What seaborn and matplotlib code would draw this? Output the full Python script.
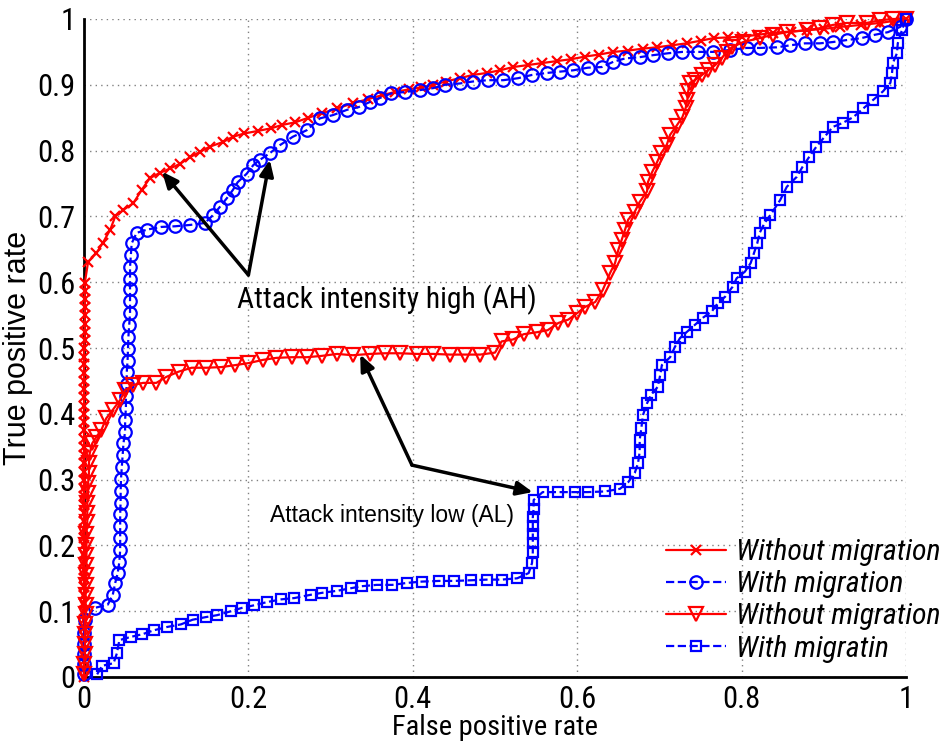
import matplotlib
matplotlib.use("Agg")
import matplotlib.pyplot as plt
import seaborn as sns
import pandas as pd

# ---------------- data ----------------
ah_without_x = [0.0, 0.0, 0.0, 0.0, 0.0, 0.0, 0.0, 0.0, 0.0, 0.0, 0.0, 0.0, 0.0, 0.0, 0.0, 0.0,
                0.0, 0.0, 0.0, 0.0, 0.0, 0.0, 0.0, 0.0, 0.0, 0.0, 0.0, 0.0, 0.0, 0.0, 0.0, 0.0,
                0.0, 0.0, 0.0, 0.0, 0.0, 0.0, 0.0, 0.0, 0.0, 0.001, 0.001, 0.001, 0.001, 0.001,
                0.001, 0.001, 0.001,
                0.005, 0.015, 0.023, 0.032, 0.038, 0.048, 0.06, 0.07, 0.08, 0.092, 0.105, 0.117,
                0.129, 0.141, 0.153, 0.169, 0.181, 0.195, 0.212, 0.228, 0.241, 0.257, 0.273, 0.29,
                0.308, 0.327, 0.345, 0.362, 0.378, 0.395, 0.41, 0.425, 0.44, 0.457, 0.473, 0.49,
                0.506, 0.522, 0.54, 0.557, 0.575, 0.593, 0.61, 0.627, 0.644, 0.662, 0.68, 0.697,
                0.715, 0.733, 0.75, 0.766, 0.783, 0.8, 0.82, 0.838, 0.86, 0.88, 0.9, 0.92, 0.945,
                0.968, 0.985, 1.0]
ah_without_y = [0.0, 0.012, 0.025, 0.037, 0.05, 0.062, 0.075, 0.087, 0.1, 0.112, 0.125, 0.137,
                0.15, 0.162, 0.175, 0.187, 0.2, 0.212, 0.225, 0.237, 0.25, 0.262, 0.275, 0.287,
                0.3, 0.312, 0.325, 0.337, 0.35, 0.362, 0.375, 0.387, 0.4, 0.412, 0.425, 0.437,
                0.45, 0.462, 0.475, 0.487, 0.5, 0.512, 0.525, 0.537, 0.55, 0.562, 0.575, 0.587,
                0.599,
                0.631, 0.644, 0.66, 0.68, 0.70, 0.71, 0.72, 0.74, 0.758, 0.766, 0.773, 0.78,
                0.79, 0.798, 0.806, 0.813, 0.821, 0.826, 0.83, 0.834, 0.839, 0.843, 0.85, 0.857,
                0.864, 0.872, 0.878, 0.884, 0.889, 0.893, 0.896, 0.9, 0.905, 0.91, 0.915, 0.918,
                0.922, 0.927, 0.93, 0.933, 0.936, 0.939, 0.943, 0.946, 0.95, 0.952, 0.955, 0.957,
                0.96, 0.963, 0.967, 0.971, 0.972, 0.973, 0.976, 0.979, 0.981, 0.983, 0.985, 0.988,
                0.991, 0.994, 0.997, 1.0]

ah_with_x = [0.0, 0.0, 0.0, 0.0, 0.0, 0.001, 0.013, 0.029, 0.035, 0.038, 0.041, 0.043, 0.044,
             0.044, 0.044, 0.044, 0.0445, 0.0446, 0.045, 0.046, 0.047, 0.048, 0.05, 0.05, 0.051,
             0.051, 0.052, 0.052, 0.053, 0.0535, 0.054, 0.055, 0.056, 0.056, 0.056, 0.056, 0.056,
             0.057, 0.058, 0.064, 0.077, 0.094, 0.111, 0.129, 0.147, 0.157, 0.165, 0.174, 0.181,
             0.187, 0.198, 0.206, 0.214, 0.226, 0.238, 0.254, 0.271, 0.287, 0.303, 0.32, 0.334,
             0.348, 0.36, 0.374, 0.39, 0.409, 0.425, 0.439, 0.457, 0.473, 0.491, 0.51, 0.528,
             0.545, 0.563, 0.579, 0.595, 0.613, 0.63, 0.644, 0.658, 0.676, 0.692, 0.711, 0.728,
             0.747, 0.765, 0.786, 0.806, 0.822, 0.843, 0.859, 0.877, 0.895, 0.911, 0.928, 0.946,
             0.962, 0.978, 0.993, 1.0]
ah_with_y = [0.005, 0.02, 0.035, 0.05, 0.067, 0.087, 0.105, 0.11, 0.125, 0.143, 0.158, 0.175,
             0.193, 0.211, 0.229, 0.247, 0.265, 0.283, 0.301, 0.319, 0.337, 0.355, 0.373, 0.391,
             0.409, 0.427, 0.445, 0.463, 0.481, 0.499, 0.517, 0.535, 0.553, 0.571, 0.589, 0.605,
             0.623, 0.641, 0.659, 0.675, 0.68, 0.684, 0.685, 0.687, 0.69, 0.702, 0.714, 0.728,
             0.74, 0.752, 0.765, 0.778, 0.786, 0.796, 0.808, 0.821, 0.831, 0.849, 0.854, 0.862,
             0.866, 0.874, 0.88, 0.887, 0.889, 0.892, 0.895, 0.9, 0.902, 0.905, 0.907, 0.907,
             0.91, 0.915, 0.918, 0.92, 0.922, 0.926, 0.927, 0.935, 0.94, 0.942, 0.945, 0.948,
             0.95, 0.95, 0.95, 0.953, 0.956, 0.956, 0.957, 0.96, 0.963, 0.963, 0.965, 0.968,
             0.971, 0.976, 0.98, 0.988, 1.0]

al_without_x = [0.0, 0.0, 0.001, 0.001, 0.001, 0.001, 0.002, 0.002, 0.002, 0.002, 0.002, 0.003,
                0.003, 0.003, 0.003, 0.004, 0.004, 0.004, 0.005, 0.005, 0.006, 0.006, 0.007,
                0.01, 0.015, 0.021, 0.027, 0.035, 0.044, 0.05, 0.06, 0.072, 0.088, 0.1, 0.115,
                0.131, 0.149, 0.167, 0.184, 0.2, 0.218, 0.234, 0.253, 0.271, 0.289, 0.308, 0.327,
                0.348, 0.366, 0.384, 0.405, 0.425, 0.445, 0.463, 0.482, 0.5, 0.508, 0.522, 0.535,
                0.551, 0.564, 0.577, 0.589, 0.6, 0.609, 0.622, 0.631, 0.64, 0.646, 0.65, 0.654,
                0.658, 0.662, 0.67, 0.676, 0.685, 0.686, 0.691, 0.697, 0.702, 0.709, 0.713, 0.721,
                0.728, 0.732, 0.734, 0.735, 0.737, 0.743, 0.752, 0.759, 0.768, 0.776, 0.782, 0.788,
                0.802, 0.822, 0.838, 0.855, 0.88, 0.895, 0.911, 0.928, 0.952, 0.968, 0.984, 1.0]
al_without_y = [0.005, 0.02, 0.035, 0.05, 0.065, 0.08, 0.095, 0.11, 0.125, 0.14, 0.155, 0.17,
                0.185, 0.2, 0.218, 0.235, 0.25, 0.265, 0.28, 0.295, 0.31, 0.325, 0.34,
                0.355, 0.365, 0.375, 0.393, 0.406, 0.421, 0.436, 0.444, 0.447, 0.447, 0.456, 0.464,
                0.47, 0.47, 0.471, 0.474, 0.477, 0.482, 0.485, 0.486, 0.486, 0.488, 0.491, 0.489,
                0.491, 0.492, 0.492, 0.491, 0.491, 0.49, 0.49, 0.49, 0.493, 0.51, 0.513, 0.521,
                0.524, 0.527, 0.538, 0.543, 0.553, 0.562, 0.57, 0.588, 0.614, 0.629, 0.649, 0.664,
                0.679, 0.695, 0.707, 0.722, 0.738, 0.752, 0.767, 0.782, 0.796, 0.809, 0.824, 0.838,
                0.851, 0.865, 0.877, 0.89, 0.903, 0.907, 0.915, 0.922, 0.93, 0.941, 0.95, 0.957,
                0.965, 0.971, 0.976, 0.98, 0.983, 0.986, 0.991, 0.994, 0.994, 0.998, 1.0, 1.0]

al_with_x = [0.016, 0.022, 0.036, 0.04, 0.043, 0.057, 0.071, 0.085, 0.101, 0.118, 0.132, 0.148,
             0.162, 0.179, 0.192, 0.207, 0.223, 0.24, 0.256, 0.276, 0.29, 0.308, 0.325, 0.338,
             0.356, 0.375, 0.393, 0.411, 0.432, 0.45, 0.471, 0.49, 0.508, 0.527, 0.541, 0.545,
             0.546, 0.546, 0.546, 0.546, 0.546, 0.547, 0.547, 0.558, 0.577, 0.597, 0.613, 0.634,
             0.652, 0.662, 0.67, 0.674, 0.676, 0.676, 0.678, 0.68, 0.685, 0.69, 0.698, 0.701,
             0.703, 0.713, 0.719, 0.725, 0.733, 0.743, 0.753, 0.764, 0.771, 0.78, 0.789, 0.794,
             0.804, 0.811, 0.815, 0.819, 0.822, 0.828, 0.835, 0.847, 0.855, 0.867, 0.874, 0.882,
             0.891, 0.901, 0.911, 0.923, 0.936, 0.948, 0.96, 0.972, 0.981, 0.983, 0.984, 0.989,
             0.99, 0.995, 1.0]
al_with_y = [0.004, 0.017, 0.021, 0.036, 0.056, 0.061, 0.065, 0.071, 0.076, 0.08, 0.087, 0.091,
             0.094, 0.1, 0.105, 0.109, 0.114, 0.118, 0.12, 0.125, 0.128, 0.131, 0.135, 0.138,
             0.14, 0.14, 0.143, 0.145, 0.146, 0.146, 0.147, 0.148, 0.148, 0.15, 0.158, 0.173,
             0.19, 0.204, 0.217, 0.23, 0.243, 0.256, 0.269, 0.281, 0.281, 0.281, 0.281, 0.282,
             0.286, 0.296, 0.31, 0.325, 0.342, 0.36, 0.378, 0.398, 0.416, 0.429, 0.441, 0.459,
             0.474, 0.486, 0.502, 0.515, 0.524, 0.535, 0.546, 0.556, 0.568, 0.578, 0.593, 0.606,
             0.616, 0.629, 0.644, 0.659, 0.675, 0.69, 0.702, 0.725, 0.745, 0.76, 0.775, 0.79,
             0.806, 0.821, 0.836, 0.842, 0.851, 0.864, 0.877, 0.89, 0.903, 0.918, 0.933, 0.948,
             0.963, 0.983, 1.0]

series_labels = ["Without migration", "With migration", "Without migration", "With migratin"]
tick_values = [0, 0.1, 0.2, 0.3, 0.4, 0.5, 0.6, 0.7, 0.8, 0.9, 1.0]
x_tick_values = [0, 0.2, 0.4, 0.6, 0.8, 1.0]
x_tick_labels = ["0", "0.2", "0.4", "0.6", "0.8", "1"]
y_tick_labels = ["0", "0.1", "0.2", "0.3", "0.4", "0.5", "0.6", "0.7", "0.8", "0.9", "1"]

# ---------------- style ----------------
sns.set_theme(style="white")
NARROW = ["Roboto Condensed", "Liberation Sans", "DejaVu Sans"]
plt.rcParams["font.family"] = NARROW
plt.rcParams["axes.unicode_minus"] = False
plt.rcParams["text.color"] = "black"
plt.rcParams["axes.labelcolor"] = "black"

fig = plt.figure(figsize=(9.44, 7.42), dpi=100)
ax = fig.add_axes([84 / 944, 65 / 742, 822 / 944, 658 / 742])

RED = (1, 0, 0)
BLUE = (0, 0, 1)

specs = [
    (ah_without_x, ah_without_y, RED, "x", "-", 7.5, series_labels[0]),
    (ah_with_x, ah_with_y, BLUE, "o", "--", 9, series_labels[1]),
    (al_without_x, al_without_y, RED, "v", "-", 9.5, series_labels[2]),
    (al_with_x, al_with_y, BLUE, "s", "--", 7.5, series_labels[3]),
]
handles = []
for xs, ys, col, mk, ls, ms, lab in specs:
    df = pd.DataFrame({"x": xs, "y": ys})
    n_before = len(ax.lines)
    sns.lineplot(data=df, x="x", y="y", ax=ax, sort=False, estimator=None,
                 color=col, marker=mk, linestyle=ls, linewidth=1.6,
                 markersize=ms, markerfacecolor="none", markeredgecolor=col,
                 markeredgewidth=1.6, clip_on=False, label=lab, zorder=3)
    handles.append(ax.lines[n_before])

ax.set_xlim(0, 1)
ax.set_ylim(0, 1)
ax.set_xticks(x_tick_values)
ax.set_xticklabels(x_tick_labels)
ax.set_yticks(tick_values)
ax.set_yticklabels(y_tick_labels)
ax.tick_params(axis="both", which="major", direction="in", length=7, width=1.5,
               labelsize=22, colors="black", pad=6)
for s in ["top", "right"]:
    ax.spines[s].set_visible(False)
for s in ["left", "bottom"]:
    ax.spines[s].set_color("black")
    ax.spines[s].set_linewidth(2)
ax.grid(True, linestyle=(0, (1, 3)), color="#808080", linewidth=1.0)
ax.set_axisbelow(True)

ax.set_xlabel("False positive rate", fontsize=20.5, labelpad=0, color="black")
ax.set_ylabel("True positive rate", fontsize=22, labelpad=3, color="black",
              family=["Liberation Sans", "DejaVu Sans"])

# annotations
arrow_kw = dict(arrowstyle="-|>,head_length=0.8,head_width=0.35", color="black", lw=2.5,
                shrinkA=0, shrinkB=0)
ax.annotate("", xy=(0.095, 0.768), xytext=(0.2, 0.611), arrowprops=arrow_kw)
ax.annotate("", xy=(0.226, 0.786), xytext=(0.2, 0.611), arrowprops=arrow_kw)
ax.text(0.186, 0.573, "Attack intensity high (AH)", fontsize=21.3, va="center", ha="left",
        color="black")
ax.annotate("", xy=(0.336, 0.49), xytext=(0.399, 0.322), arrowprops=arrow_kw)
ax.annotate("", xy=(0.546, 0.281), xytext=(0.399, 0.322), arrowprops=arrow_kw)
ax.text(0.226, 0.246, "Attack intensity low (AL)", fontsize=16.5, va="center", ha="left",
        color="black", family=["Liberation Sans", "DejaVu Sans"])

leg = ax.legend(handles=handles, labels=series_labels, loc="lower right",
                bbox_to_anchor=(1.067, -0.01), frameon=False, numpoints=1,
                handlelength=2.0, handletextpad=0.33, labelspacing=0.14, borderpad=0.2,
                prop={"style": "italic", "size": 21.5, "family": NARROW})
for t in leg.get_texts():
    t.set_color("black")

fig.savefig("out.png", dpi=100)
